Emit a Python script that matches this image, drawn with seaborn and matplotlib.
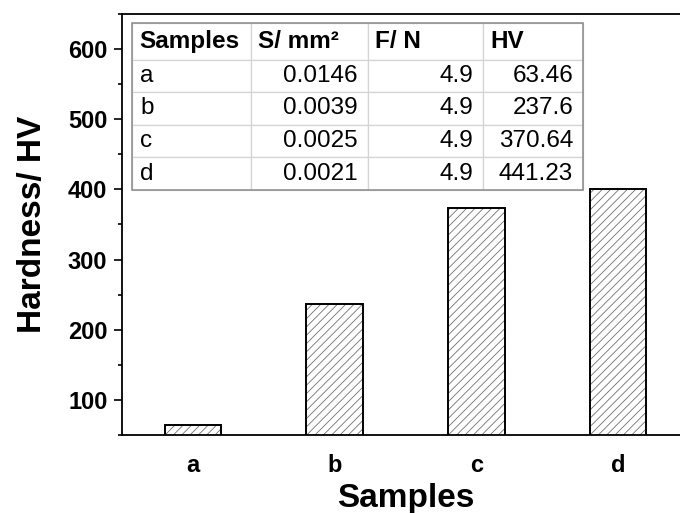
import matplotlib
matplotlib.use("Agg")
import matplotlib.pyplot as plt
import seaborn as sns
import pandas as pd
from matplotlib.ticker import MultipleLocator
from matplotlib.patches import Rectangle

# ---- data ----
samples = ["a", "b", "c", "d"]
hardness = [64, 237, 374, 401]             # bar heights
table_cols = ["Samples", "S/ mm²", "F/ N", "HV"]
table_S = ["0.0146", "0.0039", "0.0025", "0.0021"]
table_F = ["4.9", "4.9", "4.9", "4.9"]
table_HV = ["63.46", "237.6", "370.64", "441.23"]

sns.set_theme(style="white")
plt.rcParams["font.family"] = ["Liberation Sans", "DejaVu Sans"]
plt.rcParams["hatch.linewidth"] = 0.6

W, H = 680, 513
fig = plt.figure(figsize=(W / 100, H / 100), dpi=100)
L, R, B, T = 122, 689, 435, 14
ax = fig.add_axes([L / W, 1 - B / H, (R - L) / W, (B - T) / H])

df = pd.DataFrame({"Samples": samples, "HV": hardness})
# hatched fill
sns.barplot(data=df, x="Samples", y="HV", ax=ax, width=0.4, color="white",
            edgecolor="#707070", linewidth=0, saturation=1)
for p in ax.patches:
    p.set_hatch("////")
    p.set_edgecolor("#707070")
    p.set_linewidth(0)
# black outline
sns.barplot(data=df, x="Samples", y="HV", ax=ax, width=0.4, fill=False,
            edgecolor="black", linewidth=1.4)

ax.set_ylim(50, 650)
ax.set_xlim(-0.5, 3.5)
ax.yaxis.set_major_locator(MultipleLocator(100))
ax.yaxis.set_minor_locator(MultipleLocator(50))
ax.set_yticks([100, 200, 300, 400, 500, 600])
ax.tick_params(axis="y", which="major", direction="out", length=5.5, width=1.2,
               left=True, labelsize=17, pad=5, color="black")
ax.tick_params(axis="y", which="minor", direction="out", length=3, width=1.2,
               left=True, color="black")
ax.tick_params(axis="x", which="both", bottom=False, labelsize=17, pad=8)
for lab in ax.get_yticklabels() + ax.get_xticklabels():
    lab.set_fontweight("bold")
    lab.set_color("black")

for side in ["left", "top", "bottom", "right"]:
    ax.spines[side].set_visible(True)
    ax.spines[side].set_color("black")
    ax.spines[side].set_linewidth(1.3)

ax.set_xlabel("Samples", fontsize=24, fontweight="bold", labelpad=4, color="black")
ax.set_ylabel("Hardness/ HV", fontsize=24, fontweight="bold", labelpad=14, color="black")

# ---- table ----
rows = [[s, a, f, h] for s, a, f, h in zip(samples, table_S, table_F, table_HV)]
tx0, tx1, ty0, ty1 = 132, 583, 23, 190
col_px = [119, 117, 115, 100]
tbl = ax.table(cellText=rows, colLabels=table_cols,
               bbox=[(tx0 - L) / (R - L), (B - ty1) / (B - T),
                     (tx1 - tx0) / (R - L), (ty1 - ty0) / (B - T)])
tbl.auto_set_font_size(False)
for (r, c), cell in tbl.get_celld().items():
    cell.set_width(col_px[c])
    cell.set_height(37 if r == 0 else 33)
    cell.set_edgecolor("#d4d4d4")
    cell.set_linewidth(0.9)
    cell.set_facecolor("white")
    txt = cell.get_text()
    txt.set_fontsize(17.5)
    txt.set_color("black")
    if r == 0:
        txt.set_fontweight("bold")
        cell._loc = "left"
        cell.PAD = 7 / col_px[c]
    elif c == 0:
        cell._loc = "left"
        cell.PAD = 8 / col_px[c]
    else:
        cell._loc = "right"
        cell.PAD = 10 / col_px[c]
    txt.set_ha(cell._loc)
ax.add_patch(Rectangle(((tx0 - L) / (R - L), (B - ty1) / (B - T)),
                       (tx1 - tx0) / (R - L), (ty1 - ty0) / (B - T),
                       transform=ax.transAxes, fill=False, edgecolor="#8a8a8a",
                       linewidth=1.1, zorder=10))

fig.savefig("out.png", dpi=100)
